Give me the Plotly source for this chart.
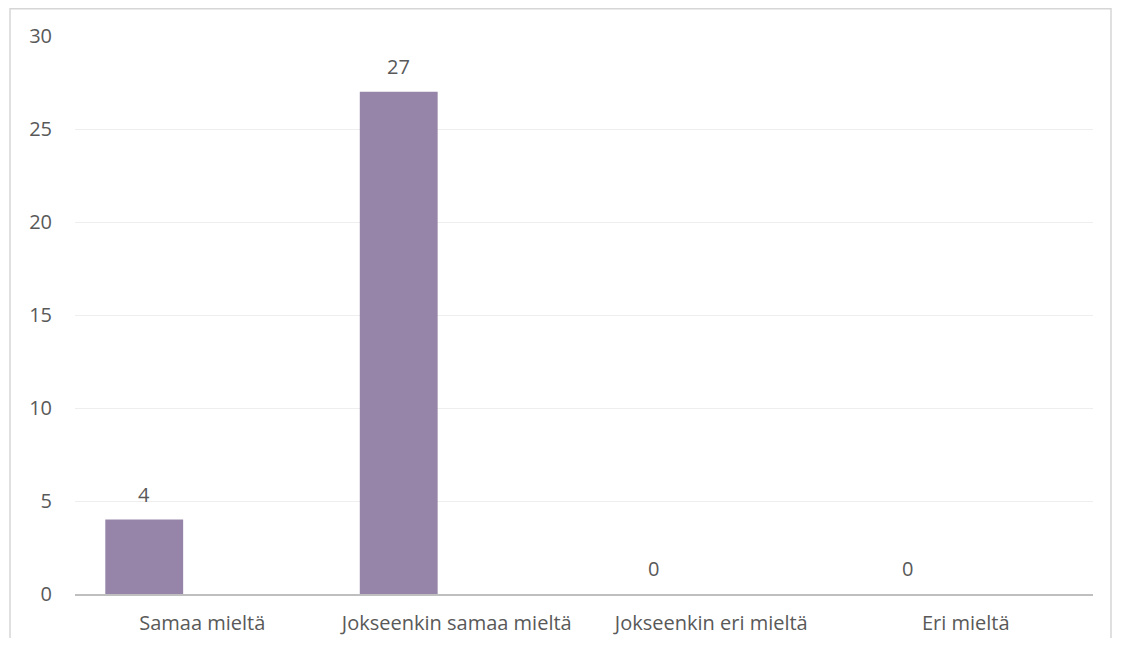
import plotly.graph_objects as go

categories = ["Samaa mieltä", "Jokseenkin samaa mieltä", "Jokseenkin eri mieltä", "Eri mieltä"]
values = [4, 27, 0, 0]
y_ticks = [0, 5, 10, 15, 20, 25, 30]

BAR_W = 0.306
BAR_OFF = -0.381
FONT = "Open Sans"
TXT = "#595959"
FS = 20

fig = go.Figure()
fig.add_trace(go.Bar(
    x=list(range(len(categories))),
    y=values,
    width=BAR_W,
    offset=BAR_OFF,
    marker=dict(color="#9785A9", line=dict(width=0)),
    hoverinfo="skip",
))

for i, v in enumerate(values):
    fig.add_annotation(
        x=i + BAR_OFF + BAR_W / 2, y=v, text=str(v),
        showarrow=False, yanchor="bottom", yshift=10,
        font=dict(family=FONT, size=FS, color=TXT),
    )

fig.update_layout(
    width=1114, height=630,
    margin=dict(l=67, r=29, t=28, b=44, autoexpand=False),
    paper_bgcolor="white", plot_bgcolor="white",
    showlegend=False,
    font=dict(family=FONT, size=FS, color=TXT),
    xaxis=dict(
        tickmode="array",
        tickvals=list(range(len(categories))),
        ticktext=categories,
        range=[-0.5, len(categories) - 0.5],
        showgrid=False, zeroline=False,
        showline=True, linecolor="#BFBFBF", linewidth=2,
        ticks="", ticklabelstandoff=10, automargin=False,
        tickfont=dict(family=FONT, size=FS, color=TXT),
    ),
    yaxis=dict(
        range=[0, 30],
        tickvals=y_ticks,
        showgrid=True, gridcolor="#EEEEEE", gridwidth=1,
        zeroline=False, showline=False, automargin=False,
        ticks="", ticklabelstandoff=22,
        tickfont=dict(family=FONT, size=FS, color=TXT),
    ),
    shapes=[dict(
        type="rect", xref="paper", yref="paper",
        x0=(10 - 75) / 1018, x1=(1111 - 75) / 1018,
        y0=(594 - 670) / 558, y1=(594 - 8.8) / 558,
        line=dict(color="#D6D6D6", width=1.5), fillcolor="rgba(0,0,0,0)",
        layer="above",
    )],
)

fig.write_html("out.html")
